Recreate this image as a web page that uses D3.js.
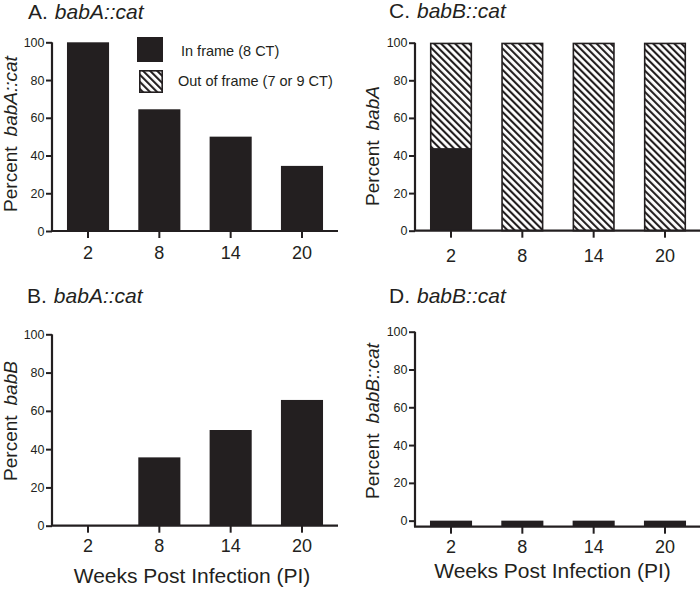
<!DOCTYPE html>
<html>
<head>
<meta charset="utf-8">
<script src="https://cdn.jsdelivr.net/npm/d3@7"></script>
<style>
  html, body { margin: 0; padding: 0; background: #fff; }
  svg { display: block; }
  text { font-family: "Liberation Sans", Arial, Helvetica, sans-serif; fill: #231f20; }
</style>
</head>
<body>
<svg id="chart" width="700" height="589"></svg>
<script>
// ---------------- data ----------------
const weeks = ["2", "8", "14", "20"];
const yTickValues = [0, 20, 40, 60, 80, 100];

const panelA_inFrame = [100, 64.5, 50, 34.5];
const panelA_outFrame = [0, 0, 0, 0];

const panelB_inFrame = [0, 35.7, 50, 65.7];
const panelB_outFrame = [0, 0, 0, 0];

const panelC_inFrame = [43.5, 0, 0, 0];
const panelC_outFrame = [56.5, 100, 100, 100];

const panelD_inFrame = [0, 0, 0, 0];
const panelD_outFrame = [0, 0, 0, 0];

const legendLabels = ["In frame (8 CT)", "Out of frame (7 or 9 CT)"];
const xAxisTitle = "Weeks Post Infection (PI)";

// ---------------- drawing ----------------
const INK = "#231f20";
const svg = d3.select("#chart");

const defs = svg.append("defs");
const pat = defs.append("pattern")
  .attr("id", "hatch")
  .attr("patternUnits", "userSpaceOnUse")
  .attr("width", 5).attr("height", 5)
  .attr("patternTransform", "rotate(-45)");
pat.append("rect").attr("width", 5).attr("height", 5).attr("fill", "#fff");
pat.append("line").attr("x1", 1).attr("y1", 0).attr("x2", 1).attr("y2", 5)
  .attr("stroke", INK).attr("stroke-width", 2.2);

const panels = [
  { title: "A.", gene: "babA::cat", yLabel: ["Percent", "babA::cat"], inF: panelA_inFrame, outF: panelA_outFrame,
    x0: 52, x1: 338, yTop: 42.3, yBot: 231, yMin: 0, titleX: 28, titleY: 19,
    ylabX: 17, ylabY: 134, tickLabY: 27.5, xTitle: null },
  { title: "C.", gene: "babB::cat", yLabel: ["Percent", "babA"], inF: panelC_inFrame, outF: panelC_outFrame,
    x0: 415, x1: 701, yTop: 42.7, yBot: 230.7, yMin: 0, titleX: 389, titleY: 18,
    ylabX: 379, ylabY: 146, tickLabY: 31, xTitle: null },
  { title: "B.", gene: "babA::cat", yLabel: ["Percent", "babB"], inF: panelB_inFrame, outF: panelB_outFrame,
    x0: 52, x1: 338, yTop: 334.3, yBot: 525.7, yMin: 0, titleX: 27, titleY: 303,
    ylabX: 17, ylabY: 421, tickLabY: 26, xTitle: { x: 192, y: 583 } },
  { title: "D.", gene: "babB::cat", yLabel: ["Percent", "babB::cat"], inF: panelD_inFrame, outF: panelD_outFrame,
    x0: 415, x1: 701, yTop: 331.7, yBot: 526.7, yMin: -3.2, titleX: 389, titleY: 303,
    ylabX: 379, ylabY: 421, tickLabY: 26.5, xTitle: { x: 552.5, y: 578 } }
];

panels.forEach(p => {
  const g = svg.append("g");
  const x = d3.scaleBand().domain(weeks).range([p.x0, p.x1]).paddingInner(0.41).paddingOuter(0.21);
  const y = d3.scaleLinear().domain([p.yMin, 100]).range([p.yBot, p.yTop]);

  const rows = weeks.map((w, i) => ({ w, inF: p.inF[i], outF: p.outF[i] }));
  rows.forEach(r => {
    const base = p.yMin;
    // solid (in-frame) part, drawn up from the axis base; a zero value leaves a sliver when the axis is offset
    if (y(base) - y(r.inF) > 0.5) {
      g.append("rect")
        .attr("x", x(r.w)).attr("width", x.bandwidth())
        .attr("y", y(r.inF))
        .attr("height", y(base) - y(r.inF))
        .attr("fill", INK);
    }
    // hatched (out-of-frame) part stacked above it
    if (r.outF > 0) {
      const bottom = r.inF > 0 ? r.inF : base;
      g.append("rect")
        .attr("x", x(r.w) + 0.75).attr("width", x.bandwidth() - 1.5)
        .attr("y", y(bottom + r.outF) + 0.75)
        .attr("height", y(bottom) - y(bottom + r.outF) - 0.75)
        .attr("fill", "url(#hatch)")
        .attr("stroke", INK).attr("stroke-width", 1.6);
    }
  });

  // y axis
  const ya = g.append("g").attr("transform", `translate(${p.x0},0)`)
    .call(d3.axisLeft(y).tickValues(yTickValues).tickSize(6).tickSizeOuter(0).tickPadding(1.5));
  ya.select(".domain").attr("stroke", INK).attr("stroke-width", 2.2)
    .attr("d", `M0,${y(100)}V${p.yBot}`);
  ya.selectAll(".tick line").attr("stroke", INK).attr("stroke-width", 2);
  ya.selectAll(".tick text").style("font-size", "12.5px").attr("fill", INK)
    .style("font-family", '"Liberation Sans", Arial, sans-serif');

  // x axis
  const xa = g.append("g").attr("transform", `translate(0,${p.yBot})`)
    .call(d3.axisBottom(x).tickSize(7).tickSizeOuter(0));
  xa.select(".domain").attr("stroke", INK).attr("stroke-width", 2.2)
    .attr("d", `M${p.x0 - 1},0H${p.x1}`);
  xa.selectAll(".tick line").attr("stroke", INK).attr("stroke-width", 2);
  xa.selectAll(".tick text").style("font-size", "18px").attr("fill", INK)
    .style("font-family", '"Liberation Sans", Arial, sans-serif')
    .attr("dy", null).attr("y", p.tickLabY);

  // panel title
  const t = g.append("text").attr("x", p.titleX).attr("y", p.titleY).style("font-size", "21px");
  t.append("tspan").text(p.title);
  t.append("tspan").attr("dx", 7).style("font-style", "italic").text(p.gene);

  // y label
  const yl = g.append("text")
    .attr("transform", `translate(${p.ylabX},${p.ylabY}) rotate(-90)`)
    .attr("text-anchor", "middle").style("font-size", "19px");
  yl.append("tspan").text(p.yLabel[0]);
  yl.append("tspan").attr("dx", 10).style("font-style", "italic").text(p.yLabel[1]);

  // x title
  if (p.xTitle) {
    g.append("text").attr("x", p.xTitle.x).attr("y", p.xTitle.y)
      .attr("text-anchor", "middle").style("font-size", "21px").text(xAxisTitle);
  }
});

// legend (panel A)
const lg = svg.append("g");
lg.append("rect").attr("x", 137).attr("y", 37).attr("width", 26).attr("height", 25).attr("fill", INK);
lg.append("rect").attr("x", 139.8).attr("y", 70.8).attr("width", 22.4).attr("height", 21.4)
  .attr("fill", "url(#hatch)").attr("stroke", INK).attr("stroke-width", 1.6);
lg.append("text").attr("x", 181).attr("y", 56).style("font-size", "14.5px").text(legendLabels[0]);
lg.append("text").attr("x", 178).attr("y", 86).style("font-size", "14.5px").text(legendLabels[1]);
</script>
</body>
</html>
